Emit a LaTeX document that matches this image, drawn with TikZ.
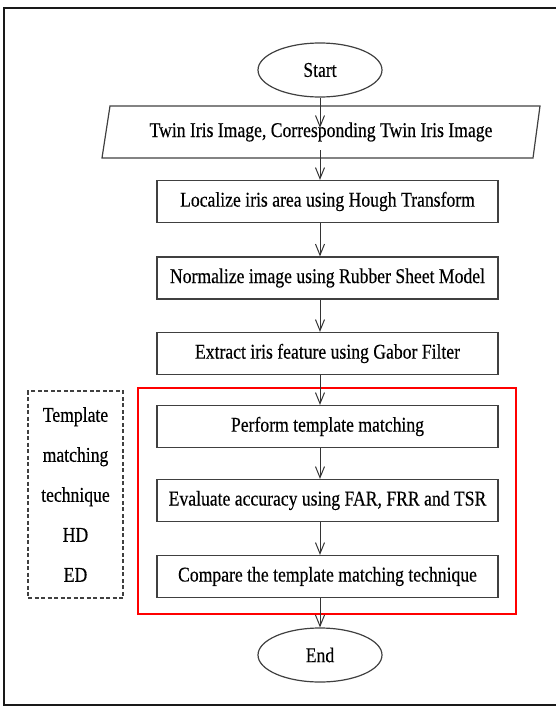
\documentclass[tikz,border=0pt]{standalone}
\usepackage{fontspec}
\setmainfont{Liberation Serif}[FakeStretch=0.84, FakeBold=0.3]
\usetikzlibrary{shapes.geometric,arrows.meta}

\begin{document}
\begin{tikzpicture}[x=1pt, y=-1pt,
    every node/.style={font=\fontsize{21}{40}\selectfont, text=black},
    flowbox/.style={draw=black!75, line width=1.2pt, minimum width=341pt, minimum height=42pt, inner sep=0pt},
    terminal/.style={draw=black!75, ellipse, line width=1.2pt, minimum width=124pt, minimum height=54pt, inner sep=0pt},
    arr/.style={-{Straight Barb[length=11pt,width=9pt]}, black!80, line width=1pt}]

    \useasboundingbox (0,0) rectangle (556,707);
    \draw[line width=2pt, black!90] (4,8) rectangle (564,705);

    \node[terminal] (start) at (320,70) {Start};
    \node[minimum width=430pt, minimum height=52pt, inner sep=0pt] (input) at (321,132)
          {Twin Iris Image, Corresponding Twin Iris Image};
    \draw[black!75, line width=1.2pt] (110,106) -- (540,106) -- (533,158) -- (102,158) -- cycle;
    \node[flowbox] (localize) at (327.5,201.5) {Localize iris area using Hough Transform};
    \node[flowbox] (normalize) at (327.5,278) {Normalize image using Rubber Sheet Model};
    \node[flowbox] (extract) at (327.5,353.5) {Extract iris feature using Gabor Filter};
    \node[flowbox] (perform) at (327.5,426.5) {Perform template matching};
    \node[flowbox] (evaluate) at (327.5,500.5) {Evaluate accuracy using FAR, FRR and TSR};
    \node[flowbox] (compare) at (327.5,576.5) {Compare the template matching technique};
    \node[terminal] (stop) at (320,655) {End};

    % matching part and the techniques
    \node[draw=red, line width=2pt, minimum width=378pt, minimum height=226pt, inner sep=0pt] (group) at (327,501) {};
    \node[draw=black!75, dash pattern=on 4pt off 2.5pt, line width=1.1pt, minimum width=95pt, minimum height=207pt,
          inner sep=0pt, align=center] (tech) at (75.5,494.5) {Template\\matching\\technique\\HD\\ED};

    \draw[arr, shorten >=-22pt] (start.south) -- (input.north -| start);
    \draw[arr, shorten <=-8pt] (input.south -| start) -- (localize.north -| start);
    \foreach \a/\b in {localize/normalize, normalize/extract, extract/perform,
                       perform/evaluate, evaluate/compare, compare/stop}
      \draw[arr] (\a.south -| start) -- (\b.north -| start);

\end{tikzpicture}
\end{document}
